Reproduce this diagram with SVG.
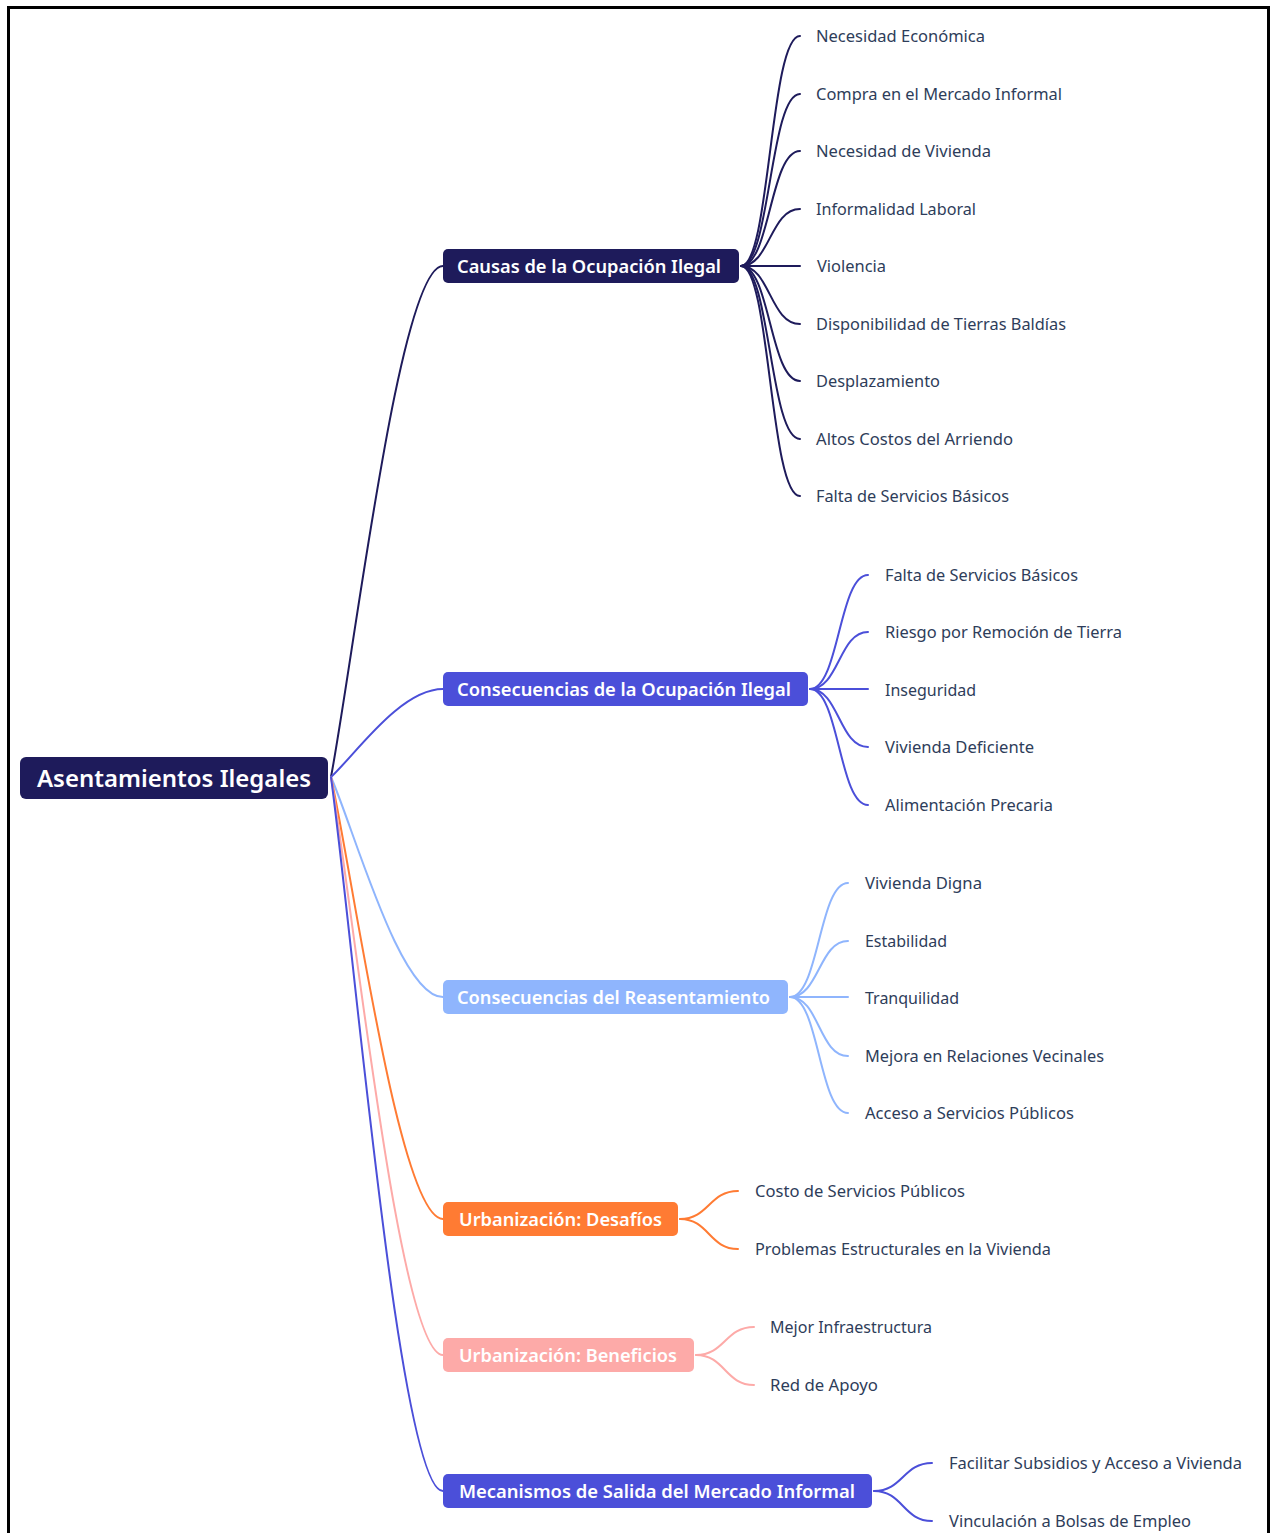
<svg xmlns="http://www.w3.org/2000/svg" width="1271" height="1533" viewBox="0 0 1271 1533">
<style>
.leaf{font-family:"Noto Sans","Open Sans",sans-serif;font-size:16px;fill:#2e3d5a}
.br{font-family:"Noto Sans","Open Sans",sans-serif;font-size:18px;font-weight:600;fill:#ffffff}
.root{font-family:"Noto Sans","Open Sans",sans-serif;font-size:24px;font-weight:600;fill:#ffffff}
.c{fill:none;stroke-width:2;stroke-linecap:round}
.navy{stroke:#1e1b5b}.blue{stroke:#4b4fd9}.lblue{stroke:#8fb5fd}.orange{stroke:#ff7b33}.pink{stroke:#fdaaa8}
</style>
<rect x="0" y="0" width="1271" height="1533" fill="#ffffff"/>
<rect x="8.5" y="7.5" width="1260" height="1560" fill="none" stroke="#000" stroke-width="3"/>
<g id="connectors">
<path class="c navy" d="M331,777 C355,649 400,266 443,266"/>
<path class="c blue" d="M331,777 C355,755 400,689 443,689"/>
<path class="c lblue" d="M331,777 C355,832 400,997 443,997"/>
<path class="c orange" d="M331,777 C355,888 400,1219 443,1219"/>
<path class="c pink" d="M331,777 C355,922 400,1355 443,1355"/>
<path class="c blue" d="M331,777 C355,956 400,1491 443,1491"/>
<path class="c navy" d="M741,266 C770,266 770,36 800,36"/>
<path class="c navy" d="M741,266 C770,266 770,94 800,94"/>
<path class="c navy" d="M741,266 C770,266 770,151 800,151"/>
<path class="c navy" d="M741,266 C770,266 770,209 800,209"/>
<path class="c navy" d="M741,266 L800,266"/>
<path class="c navy" d="M741,266 C770,266 770,324 800,324"/>
<path class="c navy" d="M741,266 C770,266 770,381 800,381"/>
<path class="c navy" d="M741,266 C770,266 770,439 800,439"/>
<path class="c navy" d="M741,266 C770,266 770,496 800,496"/>
<path class="c blue" d="M810,689 C839,689 839,575 868,575"/>
<path class="c blue" d="M810,689 C839,689 839,632 868,632"/>
<path class="c blue" d="M810,689 L868,689"/>
<path class="c blue" d="M810,689 C839,689 839,747 868,747"/>
<path class="c blue" d="M810,689 C839,689 839,805 868,805"/>
<path class="c lblue" d="M790,997 C819,997 819,883 848,883"/>
<path class="c lblue" d="M790,997 C819,997 819,941 848,941"/>
<path class="c lblue" d="M790,997 L848,997"/>
<path class="c lblue" d="M790,997 C819,997 819,1056 848,1056"/>
<path class="c lblue" d="M790,997 C819,997 819,1113 848,1113"/>
<path class="c orange" d="M680,1219 C709,1219 709,1191 738,1191"/>
<path class="c orange" d="M680,1219 C709,1219 709,1249 738,1249"/>
<path class="c pink" d="M696,1355 C725,1355 725,1327 754,1327"/>
<path class="c pink" d="M696,1355 C725,1355 725,1385 754,1385"/>
<path class="c blue" d="M874,1491 C903,1491 903,1463 932,1463"/>
<path class="c blue" d="M874,1491 C903,1491 903,1521 932,1521"/>
</g>
<g id="root">
<rect x="20" y="757" width="308" height="42" rx="6" fill="#1e1b5b"/>
<text class="root" x="37" y="787" textLength="274" lengthAdjust="spacingAndGlyphs">Asentamientos Ilegales</text>
</g>
<g id="b1">
<rect x="443" y="249" width="296" height="34" rx="5" fill="#1e1b5b"/>
<text class="br" x="457" y="273" textLength="264" lengthAdjust="spacingAndGlyphs">Causas de la Ocupación Ilegal</text>
</g>
<g id="b2">
<rect x="443" y="672" width="365" height="34" rx="5" fill="#4b4fd9"/>
<text class="br" x="457" y="696" textLength="334" lengthAdjust="spacingAndGlyphs">Consecuencias de la Ocupación Ilegal</text>
</g>
<g id="b3">
<rect x="443" y="980" width="345" height="34" rx="5" fill="#8fb5fd"/>
<text class="br" x="457" y="1004" textLength="313" lengthAdjust="spacingAndGlyphs">Consecuencias del Reasentamiento</text>
</g>
<g id="b4">
<rect x="443" y="1202" width="235" height="34" rx="5" fill="#ff7b33"/>
<text class="br" x="459" y="1226" textLength="203" lengthAdjust="spacingAndGlyphs">Urbanización: Desafíos</text>
</g>
<g id="b5">
<rect x="443" y="1338" width="251" height="34" rx="5" fill="#fdaaa8"/>
<text class="br" x="459" y="1362" textLength="218" lengthAdjust="spacingAndGlyphs">Urbanización: Beneficios</text>
</g>
<g id="b6">
<rect x="443" y="1474" width="429" height="34" rx="5" fill="#4b4fd9"/>
<text class="br" x="459" y="1498" textLength="396" lengthAdjust="spacingAndGlyphs">Mecanismos de Salida del Mercado Informal</text>
</g>
<g id="l1-1"><text class="leaf" x="816" y="42" textLength="169" lengthAdjust="spacingAndGlyphs">Necesidad Económica</text></g>
<g id="l1-2"><text class="leaf" x="816" y="100" textLength="246" lengthAdjust="spacingAndGlyphs">Compra en el Mercado Informal</text></g>
<g id="l1-3"><text class="leaf" x="816" y="157" textLength="175" lengthAdjust="spacingAndGlyphs">Necesidad de Vivienda</text></g>
<g id="l1-4"><text class="leaf" x="816" y="215" textLength="160" lengthAdjust="spacingAndGlyphs">Informalidad Laboral</text></g>
<g id="l1-5"><text class="leaf" x="817" y="272" textLength="69" lengthAdjust="spacingAndGlyphs">Violencia</text></g>
<g id="l1-6"><text class="leaf" x="816" y="330" textLength="250" lengthAdjust="spacingAndGlyphs">Disponibilidad de Tierras Baldías</text></g>
<g id="l1-7"><text class="leaf" x="816" y="387" textLength="124" lengthAdjust="spacingAndGlyphs">Desplazamiento</text></g>
<g id="l1-8"><text class="leaf" x="816" y="445" textLength="197" lengthAdjust="spacingAndGlyphs">Altos Costos del Arriendo</text></g>
<g id="l1-9"><text class="leaf" x="816" y="502" textLength="193" lengthAdjust="spacingAndGlyphs">Falta de Servicios Básicos</text></g>
<g id="l2-1"><text class="leaf" x="885" y="581" textLength="193" lengthAdjust="spacingAndGlyphs">Falta de Servicios Básicos</text></g>
<g id="l2-2"><text class="leaf" x="885" y="638" textLength="237" lengthAdjust="spacingAndGlyphs">Riesgo por Remoción de Tierra</text></g>
<g id="l2-3"><text class="leaf" x="885" y="696" textLength="91" lengthAdjust="spacingAndGlyphs">Inseguridad</text></g>
<g id="l2-4"><text class="leaf" x="885" y="753" textLength="149" lengthAdjust="spacingAndGlyphs">Vivienda Deficiente</text></g>
<g id="l2-5"><text class="leaf" x="885" y="811" textLength="168" lengthAdjust="spacingAndGlyphs">Alimentación Precaria</text></g>
<g id="l3-1"><text class="leaf" x="865" y="889" textLength="117" lengthAdjust="spacingAndGlyphs">Vivienda Digna</text></g>
<g id="l3-2"><text class="leaf" x="865" y="947" textLength="82" lengthAdjust="spacingAndGlyphs">Estabilidad</text></g>
<g id="l3-3"><text class="leaf" x="865" y="1004" textLength="94" lengthAdjust="spacingAndGlyphs">Tranquilidad</text></g>
<g id="l3-4"><text class="leaf" x="865" y="1062" textLength="239" lengthAdjust="spacingAndGlyphs">Mejora en Relaciones Vecinales</text></g>
<g id="l3-5"><text class="leaf" x="865" y="1119" textLength="209" lengthAdjust="spacingAndGlyphs">Acceso a Servicios Públicos</text></g>
<g id="l4-1"><text class="leaf" x="755" y="1197" textLength="210" lengthAdjust="spacingAndGlyphs">Costo de Servicios Públicos</text></g>
<g id="l4-2"><text class="leaf" x="755" y="1255" textLength="296" lengthAdjust="spacingAndGlyphs">Problemas Estructurales en la Vivienda</text></g>
<g id="l5-1"><text class="leaf" x="770" y="1333" textLength="162" lengthAdjust="spacingAndGlyphs">Mejor Infraestructura</text></g>
<g id="l5-2"><text class="leaf" x="770" y="1391" textLength="108" lengthAdjust="spacingAndGlyphs">Red de Apoyo</text></g>
<g id="l6-1"><text class="leaf" x="949" y="1469" textLength="293" lengthAdjust="spacingAndGlyphs">Facilitar Subsidios y Acceso a Vivienda</text></g>
<g id="l6-2"><text class="leaf" x="949" y="1527" textLength="242" lengthAdjust="spacingAndGlyphs">Vinculación a Bolsas de Empleo</text></g>
</svg>
